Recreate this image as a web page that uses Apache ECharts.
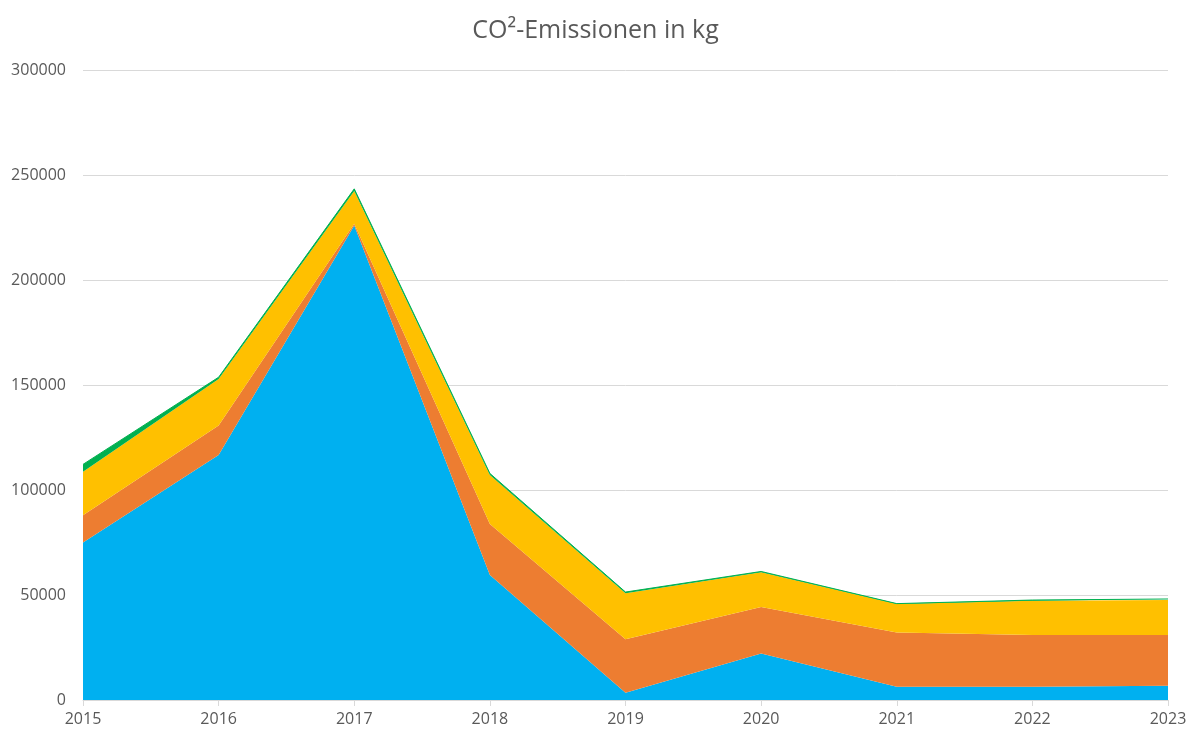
<!DOCTYPE html>
<html>
<head>
<meta charset="utf-8">
<script src="https://cdn.jsdelivr.net/npm/echarts@6/dist/echarts.min.js"></script>
<style>
html,body{margin:0;padding:0;background:#fff;}
#chart{width:1191px;height:733px;}
</style>
</head>
<body>
<div id="chart"></div>
<script>
const years = ['2015','2016','2017','2018','2019','2020','2021','2022','2023'];
const seriesBlue   = [75000, 116700, 226000, 59500, 3500, 22100, 6300, 6300, 6800];
const seriesOrange = [13000, 14000, 800, 24300, 25400, 22200, 25800, 24700, 24200];
const seriesYellow = [20700, 22200, 15600, 23300, 21900, 16500, 13600, 16300, 16600];
const seriesGreen  = [3500, 800, 1000, 800, 600, 400, 200, 300, 500];
const yTicks = { min: 0, max: 300000, interval: 50000 };

const colors = ['#00B0F0', '#ED7D31', '#FFC000', '#00B050'];
const data = [seriesBlue, seriesOrange, seriesYellow, seriesGreen];
const names = ['A', 'B', 'C', 'D'];

const chart = echarts.init(document.getElementById('chart'), null, {renderer: 'canvas'});
chart.setOption({
  animation: false,
  backgroundColor: '#fff',
  title: {
    text: 'CO²-Emissionen in kg',
    left: 'center',
    top: 13,
    textStyle: { fontFamily: 'Open Sans', fontSize: 25, fontWeight: 'normal', color: '#595959' }
  },
  grid: { left: 83, right: 23, top: 70, bottom: 33, containLabel: false },
  xAxis: {
    type: 'category',
    data: years,
    boundaryGap: false,
    axisLine: { lineStyle: { color: '#D9D9D9', width: 1 } },
    axisTick: { show: true, length: 6, lineStyle: { color: '#D9D9D9' } },
    axisLabel: { fontFamily: 'Open Sans', fontSize: 16, color: '#595959', margin: 11 },
    splitLine: { show: false }
  },
  yAxis: {
    type: 'value',
    min: yTicks.min, max: yTicks.max, interval: yTicks.interval,
    axisLine: { show: false },
    axisTick: { show: false },
    axisLabel: { fontFamily: 'Open Sans', fontSize: 16, color: '#595959', margin: 17,
                 formatter: v => String(v) },
    splitLine: { lineStyle: { color: '#D9D9D9', width: 1 } }
  },
  series: data.map((d, i) => ({
    name: names[i],
    type: 'line',
    stack: 'total',
    data: d,
    symbol: 'none',
    lineStyle: { width: i === 3 ? 1 : 0, color: colors[i] },
    areaStyle: { color: colors[i], opacity: 1 },
    itemStyle: { color: colors[i] }
  }))
});
</script>
</body>
</html>
